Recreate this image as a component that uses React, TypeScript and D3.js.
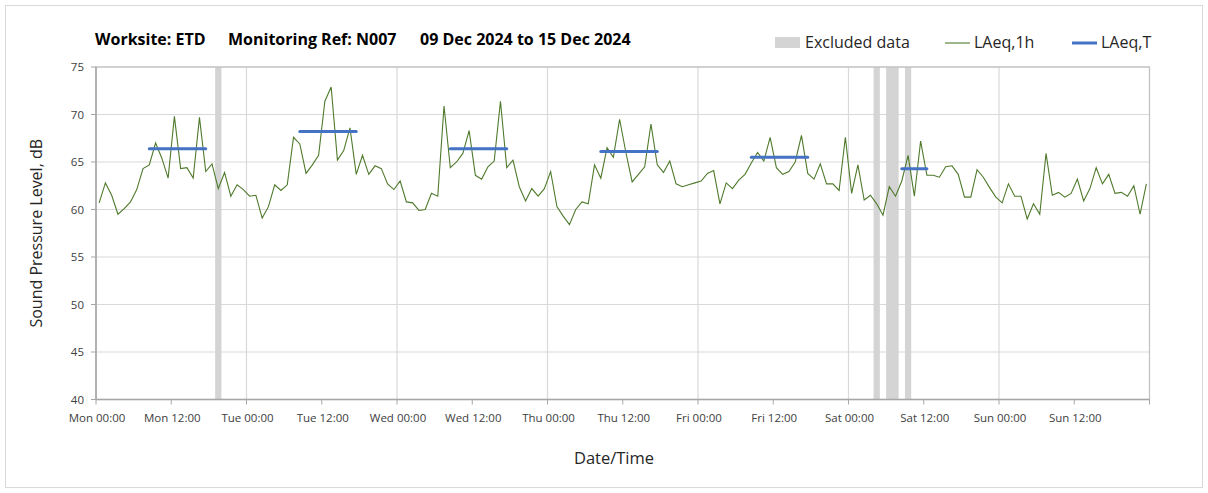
import React from "react";
import * as d3 from "d3";

// hourly LAeq,1h values, Mon 00:00 .. Sun 23:00
const levels1h = [
  60.7, 62.8, 61.5, 59.5, 60.1, 60.8, 62.1, 64.3, 64.7, 67.0, 65.4, 63.3,
  69.8, 64.3, 64.4, 63.3, 69.7, 64.0, 64.8, 62.2, 63.9, 61.4, 62.6, 62.1,
  61.4, 61.5, 59.1, 60.3, 62.6, 62.0, 62.6, 67.6, 66.9, 63.8, 64.7, 65.7,
  71.4, 72.9, 65.2, 66.2, 68.6, 63.7, 65.7, 63.7, 64.6, 64.3, 62.7, 62.1,
  63.0, 60.8, 60.7, 59.9, 60.0, 61.7, 61.4, 70.9, 64.4, 65.0, 65.9, 68.3,
  63.6, 63.2, 64.5, 65.1, 71.4, 64.4, 65.2, 62.4, 60.9, 62.2, 61.4, 62.2,
  64.0, 60.3, 59.3, 58.4, 60.0, 60.8, 60.6, 64.7, 63.3, 66.5, 65.5, 69.5,
  66.0, 62.9, 63.7, 64.5, 69.0, 64.7, 63.9, 65.1, 62.7, 62.4, 62.6, 62.8,
  63.0, 63.8, 64.1, 60.6, 62.8, 62.2, 63.1, 63.7, 64.9, 66.0, 65.1, 67.6,
  64.4, 63.7, 64.0, 65.0, 67.8, 63.8, 63.2, 64.8, 62.7, 62.7, 62.0, 67.6,
  61.7, 64.7, 61.0, 61.5, 60.6, 59.4, 62.4, 61.4, 63.0, 65.7, 61.4, 67.2,
  63.6, 63.6, 63.4, 64.5, 64.6, 63.7, 61.3, 61.3, 64.2, 63.4, 62.3, 61.3,
  60.7, 62.7, 61.4, 61.4, 59.0, 60.6, 59.5, 65.9, 61.5, 61.8, 61.3, 61.7,
  63.2, 60.9, 62.2, 64.4, 62.7, 63.7, 61.7, 61.8, 61.4, 62.5, 59.5, 62.7,
];

// LAeq,T periods (hours from Mon 00:00)
const periodStart = [8, 32, 56, 80, 104, 128];
const periodEnd = [17, 41, 65, 89, 113, 132];
const periodLevel = [66.4, 68.2, 66.4, 66.1, 65.5, 64.3];

// excluded periods (hours from Mon 00:00)
const excludedStart = [19, 124, 126, 129];
const excludedEnd = [20, 125, 128, 130];

const xTickLabels = [
  "Mon 00:00", "Mon 12:00", "Tue 00:00", "Tue 12:00", "Wed 00:00", "Wed 12:00",
  "Thu 00:00", "Thu 12:00", "Fri 00:00", "Fri 12:00", "Sat 00:00", "Sat 12:00",
  "Sun 00:00", "Sun 12:00",
];
const yTicks = [40, 45, 50, 55, 60, 65, 70, 75];

const FONT = "'Open Sans', Lato, sans-serif";
const GREEN = "#4f7a2c";
const BLUE = "#4472c4";
const GREY = "#d4d4d4";

export default function App() {
  const width = 1208;
  const height = 493;
  const margin = { top: 67, right: 58.5, bottom: 93.5, left: 96 };

  const x = d3.scaleLinear().domain([0, 168]).range([margin.left, width - margin.right]);
  const y = d3.scaleLinear().domain([40, 75]).range([height - margin.bottom, margin.top]);

  const line = d3
    .line<number>()
    .x((_, i) => x(i + 0.5))
    .y((d) => y(d));

  const x0 = x(0);
  const x1 = x(168);
  const y0 = y(40);
  const y1 = y(75);

  return (
    <div style={{ position: "absolute", left: 0, top: 0 }}>
      <svg width={width} height={height} style={{ display: "block", fontFamily: FONT }}>
        <rect x={0} y={0} width={width} height={height} fill="#fff" />
        <rect x={5.5} y={5.5} width={1197} height={482} fill="none" stroke="#d9d9d9" />

        {/* horizontal grid */}
        {yTicks.map((t) => (
          <line key={t} x1={x0} x2={x1} y1={y(t)} y2={y(t)} stroke="#d9d9d9" strokeWidth={1.2} />
        ))}
        {/* vertical grid at midnight */}
        {d3.range(24, 168, 24).map((h) => (
          <line key={h} x1={x(h)} x2={x(h)} y1={y1} y2={y0} stroke="#d9d9d9" strokeWidth={1.2} />
        ))}

        {/* excluded bars */}
        {excludedStart.map((s, i) => (
          <rect key={i} x={x(s)} width={x(excludedEnd[i]) - x(s)} y={y1} height={y0 - y1} fill={GREY} />
        ))}

        {/* plot border */}
        <rect x={x0} y={y1} width={x1 - x0} height={y0 - y1} fill="none" stroke="#bfbfbf" strokeWidth={1.2} />
        <line x1={x0} x2={x0} y1={y1} y2={y0} stroke="#a6a6a6" strokeWidth={1.5} />
        <line x1={x0} x2={x1} y1={y0} y2={y0} stroke="#a6a6a6" strokeWidth={1.5} />

        {/* y ticks */}
        {yTicks.map((t) => (
          <g key={t}>
            <line x1={x0 - 5} x2={x0} y1={y(t)} y2={y(t)} stroke="#a6a6a6" />
            <text x={x0 - 12} y={y(t) + 4} textAnchor="end" fontSize={11.5} fill="#404040">
              {t}
            </text>
          </g>
        ))}

        {/* x ticks */}
        {d3.range(0, 169, 12).map((h) => (
          <line key={h} x1={x(h)} x2={x(h)} y1={y0} y2={y0 + 5} stroke="#a6a6a6" />
        ))}
        {xTickLabels.map((lab, i) => (
          <text key={lab} x={x(i * 12) + 1} y={y0 + 22} textAnchor="middle" fontSize={11.5} fill="#404040">
            {lab}
          </text>
        ))}

        {/* LAeq,1h */}
        <path d={line(levels1h) || ""} fill="none" stroke={GREEN} strokeWidth={1.1} />

        {/* LAeq,T */}
        {periodStart.map((s, i) => (
          <line
            key={i}
            x1={x(s + 0.5)}
            x2={x(periodEnd[i] + 0.5)}
            y1={y(periodLevel[i])}
            y2={y(periodLevel[i])}
            stroke={BLUE}
            strokeWidth={3}
            strokeLinecap="round"
          />
        ))}

        {/* axis titles */}
        <text
          transform={`translate(42,${(y0 + y1) / 2}) rotate(-90)`}
          textAnchor="middle"
          fontSize={16}
          fill="#262626"
        >
          Sound Pressure Level, dB
        </text>
        <text x={614} y={464} textAnchor="middle" fontSize={16.5} fill="#262626">
          Date/Time
        </text>

        {/* title */}
        <text y={45} fontSize={16} fontWeight="bold" fill="#000">
          <tspan x={95}>Worksite: ETD</tspan>
          <tspan x={228}>Monitoring Ref: N007</tspan>
          <tspan x={420}>09 Dec 2024 to 15 Dec 2024</tspan>
        </text>

        {/* legend */}
        <rect x={775} y={37} width={25} height={11} fill={GREY} />
        <text x={805} y={48} fontSize={16} fill="#262626">Excluded data</text>
        <line x1={945} x2={970} y1={43} y2={43} stroke={GREEN} strokeWidth={1.1} />
        <text x={974} y={48} fontSize={16} fill="#262626">LAeq,1h</text>
        <line x1={1072} x2={1097} y1={43} y2={43} stroke={BLUE} strokeWidth={3} />
        <text x={1101} y={48} fontSize={16} fill="#262626">LAeq,T</text>
      </svg>
    </div>
  );
}
